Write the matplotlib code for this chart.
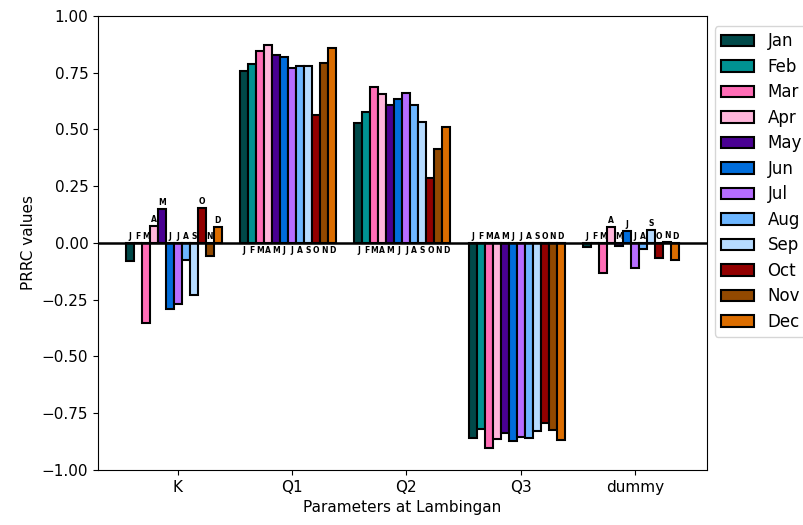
import matplotlib
matplotlib.use('Agg')
import matplotlib.pyplot as plt
import numpy as np

params = ['K', 'Q1', 'Q2', 'Q3', 'dummy']
months = ['Jan', 'Feb', 'Mar', 'Apr', 'May', 'Jun', 'Jul', 'Aug', 'Sep', 'Oct', 'Nov', 'Dec']
letters = ['J', 'F', 'M', 'A', 'M', 'J', 'J', 'A', 'S', 'O', 'N', 'D']
colors = ['#004949', '#009292', '#ff6db6', '#ffb6db', '#490092', '#006ddb',
          '#b66dff', '#6db6ff', '#b6dbff', '#920000', '#924900', '#db6d00']

# PRRC per parameter, Jan..Dec
prrc_K = [-0.08, 0.0, -0.355, 0.075, 0.15, -0.29, -0.27, -0.075, -0.23, 0.155, -0.06, 0.07]
prrc_Q1 = [0.755, 0.787, 0.845, 0.872, 0.825, 0.817, 0.768, 0.777, 0.777, 0.562, 0.792, 0.860]
prrc_Q2 = [0.528, 0.577, 0.687, 0.656, 0.606, 0.633, 0.661, 0.609, 0.530, 0.285, 0.415, 0.512]
prrc_Q3 = [-0.86, -0.82, -0.905, -0.862, -0.838, -0.875, -0.855, -0.858, -0.828, -0.792, -0.826, -0.868]
prrc_dummy = [-0.018, -0.003, -0.135, 0.07, -0.012, 0.052, -0.11, -0.028, 0.058, -0.065, 0.003, -0.075]

data = np.array([prrc_K, prrc_Q1, prrc_Q2, prrc_Q3, prrc_dummy])

plt.rcParams['font.size'] = 11
fig = plt.figure(figsize=(8.04, 5.25), dpi=100)
ax = fig.add_axes([0.122, 0.105, 0.757, 0.865])

x = np.arange(len(params))
w = 0.07
for i, m in enumerate(months):
    xs = x + (i - 6) * w
    hs = data[:, i]
    ax.bar(xs, hs, width=w, color=colors[i], edgecolor='black', linewidth=1.5, label=m)
    for xi, h in zip(xs, hs):
        if h > 0.25:
            # tall bars: letter goes under the zero line
            ax.text(xi, -0.012, letters[i], ha='center', va='top', fontsize=5.5, fontweight='bold')
        else:
            ax.text(xi, max(h, 0) + 0.008, letters[i], ha='center', va='bottom', fontsize=5.5, fontweight='bold')

ax.axhline(0, color='black', linewidth=1.8)
ax.set_ylim(-1, 1)
ax.set_xticks(x)
ax.set_xticklabels(params)
ax.set_xlabel('Parameters at Lambingan')
ax.set_ylabel('PRRC values')
ax.legend(loc='upper left', bbox_to_anchor=(1, 0.995), fontsize=12, labelspacing=0.45,
          borderpad=0.35)

plt.savefig('out.png', dpi=100)
